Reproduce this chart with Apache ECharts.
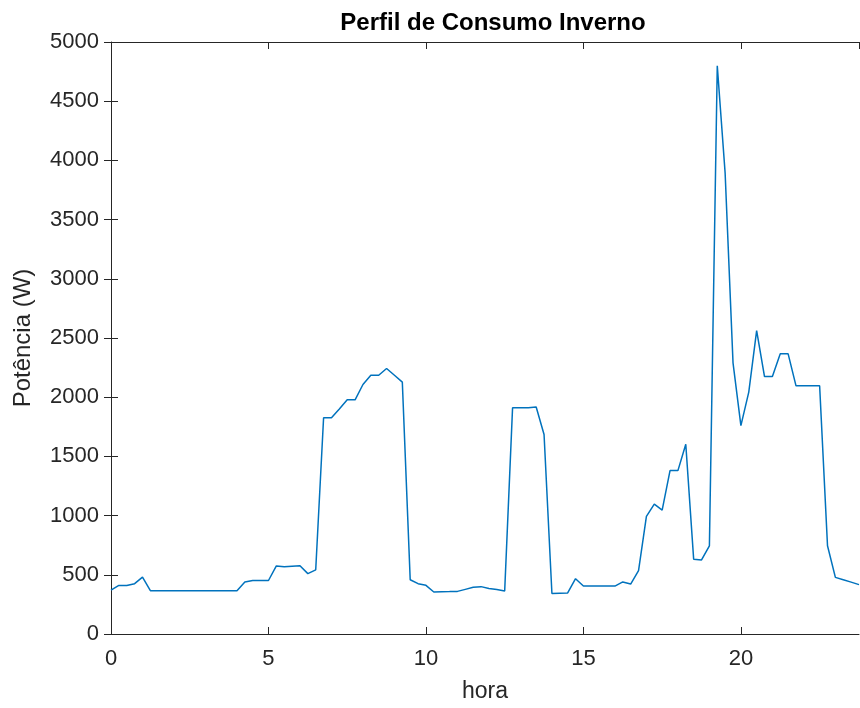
<!DOCTYPE html>
<html>
<head>
<meta charset="utf-8">
<script src="https://cdn.jsdelivr.net/npm/echarts@6/dist/echarts.min.js"></script>
<style>
  html, body { margin: 0; padding: 0; background: #fff; }
  #chart { width: 860px; height: 708px; }
</style>
</head>
<body>
<div id="chart"></div>
<script>
// one sample every 15 minutes, 0h .. 23.75h
const STEP_H = 0.25;

const POWER_W = [
  370, 410, 410, 425, 480, 366, 366, 366, 366, 366, 366, 366,
  366, 366, 366, 366, 366, 440, 452, 452, 452, 575, 567, 572,
  577, 510, 542, 1826, 1826, 1900, 1978, 1978, 2107, 2185, 2185, 2242,
  2185, 2127, 458, 425, 411, 355, 357, 358, 360, 377, 394, 400,
  385, 375, 364, 1910, 1910, 1910, 1917, 1685, 342, 345, 347, 467,
  405, 405, 405, 405, 405, 440, 422, 536, 994, 1097, 1047, 1380,
  1380, 1602, 632, 626, 745, 4800, 3890, 2290, 1760, 2043, 2562, 2174,
  2174, 2366, 2366, 2096, 2096, 2096, 2096, 745, 478, 458, 438, 417,
];

const X_TICKS = [0, 5, 10, 15, 20];
const Y_TICKS = [0, 500, 1000, 1500, 2000, 2500, 3000, 3500, 4000, 4500, 5000];

const AXIS_COLOR = "#262626";
const LINE_COLOR = "#0072BD";
const FONT = "Liberation Sans, Arial, Helvetica, sans-serif";

const chart = echarts.init(document.getElementById("chart"));

const points = POWER_W.map((v, i) => [i * STEP_H, v]);
const xMax = (POWER_W.length - 1) * STEP_H;

const xBase = {
  type: "value",
  min: 0,
  max: xMax,
  interval: 5,
  splitLine: { show: false },
  axisLine: { show: true, onZero: false, lineStyle: { color: AXIS_COLOR, width: 1 } },
  axisTick: { show: true, inside: true, length: 7, lineStyle: { color: AXIS_COLOR } },
};

const yBase = {
  type: "value",
  min: Y_TICKS[0],
  max: Y_TICKS[Y_TICKS.length - 1],
  interval: 500,
  splitLine: { show: false },
  axisTick: { show: true, inside: true, length: 7, lineStyle: { color: AXIS_COLOR } },
};

const option = {
  animation: false,
  backgroundColor: "#fff",
  title: {
    text: "Perfil de Consumo Inverno",
    left: 488,
    top: 6,
    textAlign: "center",
    textStyle: { fontFamily: FONT, fontSize: 24, fontWeight: "bold", color: "#000" },
  },
  grid: { left: 111, right: 1, top: 42, bottom: 70 },
  xAxis: [
    {
      ...xBase,
      position: "bottom",
      name: "hora",
      nameLocation: "middle",
      nameGap: 46,
      nameTextStyle: { fontFamily: FONT, fontSize: 23, color: AXIS_COLOR },
      axisLabel: {
        showMaxLabel: false,
        margin: 14,
        fontFamily: FONT,
        fontSize: 22,
        color: AXIS_COLOR,
        formatter: (v) => (X_TICKS.includes(v) ? String(v) : ""),
      },
    },
    {
      ...xBase,
      position: "top",
      axisLabel: { show: false },
    },
  ],
  yAxis: [
    {
      ...yBase,
      position: "left",
      name: "Potência (W)",
      nameLocation: "middle",
      nameGap: 76,
      nameTextStyle: { fontFamily: FONT, fontSize: 24, color: AXIS_COLOR },
      axisLine: { show: true, lineStyle: { color: AXIS_COLOR, width: 1 } },
      axisLabel: {
        margin: 12,
        fontFamily: FONT,
        fontSize: 22,
        color: AXIS_COLOR,
        formatter: (v) => String(v),
      },
    },
    {
      ...yBase,
      position: "right",
      axisLine: { show: false },
      axisLabel: { show: false },
    },
  ],
  series: [
    {
      type: "line",
      xAxisIndex: 0,
      yAxisIndex: 0,
      data: points,
      showSymbol: false,
      symbol: "none",
      lineStyle: { color: LINE_COLOR, width: 1.5 },
    },
  ],
};

chart.setOption(option);
</script>
</body>
</html>
